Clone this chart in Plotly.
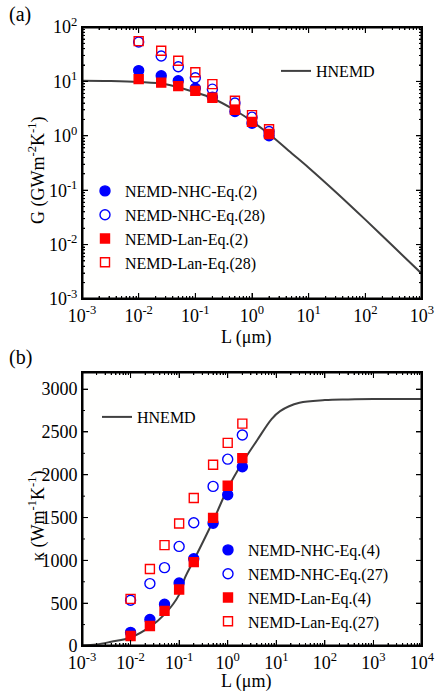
import math

import plotly.graph_objects as go

# panel (a): interfacial conductance G (GW m^-2 K^-1) vs length L (um)
L_data = [0.01, 0.025, 0.05, 0.1, 0.2, 0.5, 1, 2]
g_nhc_eq2 = [15.8, 12.7, 10.3, 7.5, 5.1, 2.8, 1.7, 1.0]
g_nhc_eq28 = [53, 29.3, 18.6, 11.7, 7.2, 4.0, 2.2, 1.2]
g_lan_eq2 = [11.0, 9.5, 8.2, 6.7, 5.0, 3.0, 1.8, 1.08]
g_lan_eq28 = [55, 36.6, 24, 14.7, 8.9, 4.4, 2.4, 1.32]

L_curve_a = [0.001, 0.003, 0.01, 0.03, 0.1, 0.2, 0.5, 1, 2, 5, 10, 30, 100, 300, 1000]
g_hnemd = [10.3, 10.2, 9.8, 8.9, 6.3, 4.9, 2.95, 1.85, 1.08, 0.48, 0.26, 0.093, 0.0288, 0.0096, 0.00288]

# panel (b): thermal conductivity kappa (W m^-1 K^-1) vs length L (um)
k_nhc_eq4 = [159, 310, 488, 736, 1019, 1434, 1767, 2093]
k_nhc_eq27 = [535, 729, 915, 1163, 1440, 1864, 2182, 2465]
k_lan_eq4 = [116, 233, 410, 659, 980, 1496, 1872, 2194]
k_lan_eq27 = [550, 899, 1178, 1430, 1729, 2116, 2372, 2597]

L_curve_b = [0.001, 0.002, 0.004, 0.01, 0.025, 0.05, 0.1, 0.13, 0.2, 0.5, 1, 2, 4, 8, 12, 30, 100, 300, 1000, 10000]
k_hnemd = [5, 18, 50, 100, 224, 370, 600, 790, 1000, 1460, 1840, 2140, 2400, 2650, 2744, 2841, 2872, 2880, 2884, 2886]

# tick labels (decade exponents) and kappa ticks
decades_a_x = [-3, -2, -1, 0, 1, 2, 3]
decades_a_y = [-3, -2, -1, 0, 1, 2]
decades_b_x = [-3, -2, -1, 0, 1, 2, 3, 4]
kappa_ticks = [0, 500, 1000, 1500, 2000, 2500, 3000]
kappa_range = [0, 3200]

FONT = "Liberation Serif"
BLUE = "#0000FF"
RED = "#FF0000"
GREY = "#404040"
W, H = 436, 697

# plot boxes in page pixels: left, right, top, bottom
BOX_A = (82, 422, 27, 299)
BOX_B = (82, 422, 372, 646)


def pow_ticks(exps):
    return [10.0 ** e for e in exps], ["10<sup>%d</sup>" % e for e in exps]


def minor_vals(exps):
    return [m * 10.0 ** e for e in exps[:-1] for m in range(2, 10)]


def px_x(v):
    return v / W


def px_y(v):
    return 1 - v / H


def log_axis(exps, rng, **kw):
    vals, text = pow_ticks(exps)
    return dict(type="log", range=rng, tickmode="array", tickvals=vals, ticktext=text,
                showline=True, linecolor="black", linewidth=1, mirror="allticks",
                ticks="inside", ticklen=6, tickwidth=1, tickcolor="black",
                showgrid=False, zeroline=False,
                tickfont=dict(family=FONT, size=18, color="black"),
                minor=dict(tickmode="array", tickvals=minor_vals(exps), ticks="inside",
                           ticklen=3, tickwidth=1, tickcolor="black", showgrid=False),
                **kw)


def frame_paths(box, xr, yr, xlog, ylog, xmaj, xmin, ymaj, ymin):
    """Box outline and inside tick marks (all four sides), in axis units."""
    left, right, top, bottom = box
    ux = (xr[1] - xr[0]) / (right - left)   # axis units per pixel
    uy = (yr[1] - yr[0]) / (bottom - top)
    fx = (lambda u: 10.0 ** u) if xlog else (lambda u: u)
    fy = (lambda u: 10.0 ** u) if ylog else (lambda u: u)
    bx = [xr[0], xr[1], xr[1], xr[0], xr[0]]
    by = [yr[0], yr[0], yr[1], yr[1], yr[0]]
    frame = ([fx(u) for u in bx], [fy(u) for u in by])
    tx, ty = [], []
    for vals, ln in ((xmaj, 6), (xmin, 3)):
        for u in vals:
            for y0, d in ((yr[0], 1), (yr[1], -1)):
                tx += [fx(u), fx(u), None]
                ty += [fy(y0), fy(y0 + d * ln * uy), None]
    for vals, ln in ((ymaj, 6), (ymin, 3)):
        for u in vals:
            for x0, d in ((xr[0], 1), (xr[1], -1)):
                tx += [fx(x0), fx(x0 + d * ln * ux), None]
                ty += [fy(u), fy(u), None]
    return frame, (tx, ty)


fig = go.Figure()

# ---- panel (a)
fig.add_trace(go.Scatter(x=L_curve_a, y=g_hnemd, mode="lines", name="HNEMD",
                         line=dict(color=GREY, width=2, shape="spline"),
                         xaxis="x", yaxis="y", legend="legend"))
marker_sets_a = [
    ("NEMD-NHC-Eq.(2)", g_nhc_eq2, "circle", BLUE),
    ("NEMD-NHC-Eq.(28)", g_nhc_eq28, "circle-open", BLUE),
    ("NEMD-Lan-Eq.(2)", g_lan_eq2, "square", RED),
    ("NEMD-Lan-Eq.(28)", g_lan_eq28, "square-open", RED),
]
for name, vals, sym, col in marker_sets_a:
    size = 10 if "circle" in sym else 9
    fig.add_trace(go.Scatter(x=L_data, y=vals, mode="markers", name=name,
                             marker=dict(symbol=sym, color=col, size=size,
                                         line=dict(color=col, width=1.4)),
                             xaxis="x", yaxis="y", legend="legend2"))

# ---- panel (b)
fig.add_trace(go.Scatter(x=L_curve_b, y=k_hnemd, mode="lines", name="HNEMD",
                         line=dict(color=GREY, width=2, shape="spline"),
                         xaxis="x2", yaxis="y2", legend="legend3"))
marker_sets_b = [
    ("NEMD-NHC-Eq.(4)", k_nhc_eq4, "circle", BLUE),
    ("NEMD-NHC-Eq.(27)", k_nhc_eq27, "circle-open", BLUE),
    ("NEMD-Lan-Eq.(4)", k_lan_eq4, "square", RED),
    ("NEMD-Lan-Eq.(27)", k_lan_eq27, "square-open", RED),
]
for name, vals, sym, col in marker_sets_b:
    size = 10 if "circle" in sym else 9
    fig.add_trace(go.Scatter(x=L_data, y=vals, mode="markers", name=name,
                             marker=dict(symbol=sym, color=col, size=size,
                                         line=dict(color=col, width=1.4)),
                             xaxis="x2", yaxis="y2", legend="legend4"))

# ---- frames and tick marks drawn as line traces (axis lines don't show up here)
kappa_minor = [v + 250 for v in kappa_ticks if v + 250 < kappa_range[1]]
frames = [
    (frame_paths(BOX_A, [-3, 3], [-3, 2], True, True,
                 decades_a_x, [math.log10(v) for v in minor_vals(decades_a_x)],
                 decades_a_y, [math.log10(v) for v in minor_vals(decades_a_y)]), "x", "y"),
    (frame_paths(BOX_B, [-3, 4], kappa_range, True, False,
                 decades_b_x, [math.log10(v) for v in minor_vals(decades_b_x)],
                 kappa_ticks, kappa_minor), "x2", "y2"),
]
for (frame, ticks), xa, ya in frames:
    fig.add_trace(go.Scatter(x=frame[0], y=frame[1], mode="lines", showlegend=False,
                             hoverinfo="skip", line=dict(color="black", width=3),
                             xaxis=xa, yaxis=ya))
    fig.add_trace(go.Scatter(x=ticks[0], y=ticks[1], mode="lines", showlegend=False,
                             hoverinfo="skip", line=dict(color="black", width=1),
                             connectgaps=False, xaxis=xa, yaxis=ya))

dom_x = [px_x(BOX_A[0]), px_x(BOX_A[1])]
leg_font = dict(family=FONT, size=16, color="black")

fig.update_layout(
    template="none",
    paper_bgcolor="#FFFFFF", plot_bgcolor="#FFFFFE",
    width=W, height=H,
    margin=dict(l=0, r=0, t=0, b=0, autoexpand=False),
    xaxis=log_axis(decades_a_x, [-3, 3], domain=dom_x, anchor="y"),
    yaxis=log_axis(decades_a_y, [-3, 2], domain=[px_y(BOX_A[3]), px_y(BOX_A[2])], anchor="x"),
    xaxis2=log_axis(decades_b_x, [-3, 4], domain=dom_x, anchor="y2"),
    yaxis2=dict(domain=[px_y(BOX_B[3]), px_y(BOX_B[2])], anchor="x2",
                range=kappa_range, tickmode="array", tickvals=kappa_ticks,
                showline=True, linecolor="black", linewidth=1, mirror="allticks",
                ticks="inside", ticklen=6, tickwidth=1, tickcolor="black",
                showgrid=False, zeroline=False,
                tickfont=dict(family=FONT, size=18, color="black")),
    legend=dict(x=px_x(276), y=px_y(54), xanchor="left", yanchor="top",
                bgcolor="rgba(0,0,0,0)", font=leg_font),
    legend2=dict(x=px_x(85), y=px_y(174), xanchor="left", yanchor="top",
                 bgcolor="rgba(0,0,0,0)", font=leg_font, tracegroupgap=1.5),
    legend3=dict(x=px_x(97), y=px_y(400), xanchor="left", yanchor="top",
                 bgcolor="rgba(0,0,0,0)", font=leg_font),
    legend4=dict(x=px_x(208), y=px_y(533), xanchor="left", yanchor="top",
                 bgcolor="rgba(0,0,0,0)", font=leg_font, tracegroupgap=1.5),
    showlegend=True,
)

annots = [
    ("(a)", 7, 14, 0, "left", 20),
    ("(b)", 7, 357, 0, "left", 20),
    ("G (GWm<sup>-2</sup>K<sup>-1</sup>)", 37, 171, -90, "center", 18),
    ("κ (Wm<sup>-1</sup>K<sup>-1</sup>)", 37, 516, -90, "center", 18),
    ("L (μm)", 246, 337, 0, "center", 18),
    ("L (μm)", 246, 681, 0, "center", 18),
]
for text, ax_, ay_, ang, anchor, fs in annots:
    fig.add_annotation(text=text, xref="paper", yref="paper", x=px_x(ax_), y=px_y(ay_),
                       xanchor=anchor, yanchor="middle", textangle=ang, showarrow=False,
                       font=dict(family=FONT, size=fs, color="black"))

fig.write_html("out.html", config={"displayModeBar": False},
               post_script="document.body.style.margin = '0';")
